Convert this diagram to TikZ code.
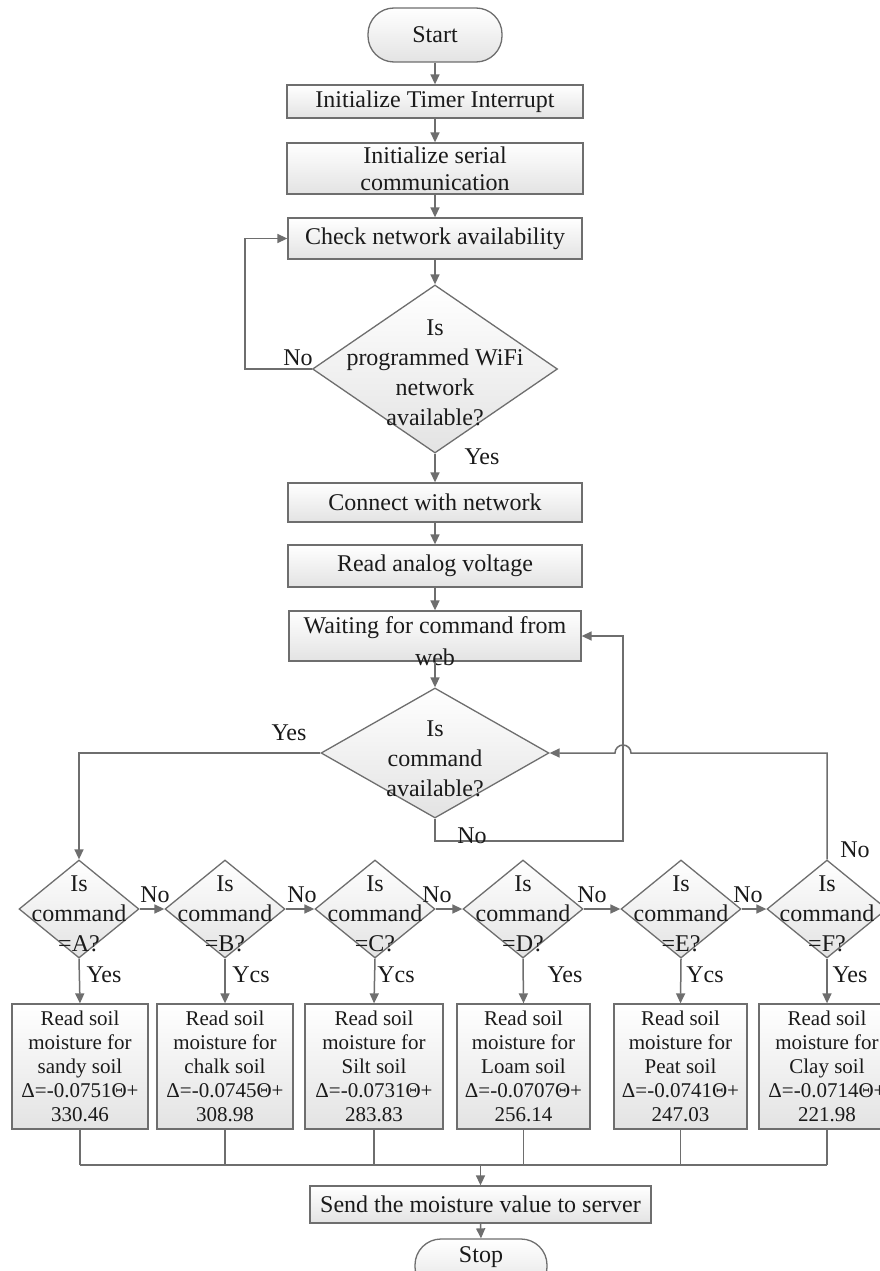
\documentclass[tikz,border=0pt]{standalone}
\usepackage{fontspec}
\setmainfont{Liberation Serif}
\usetikzlibrary{arrows.meta,shapes.geometric}
\definecolor{lc}{HTML}{6E6E6E}
\definecolor{tc}{HTML}{1A1A1A}
\begin{document}
\begin{tikzpicture}[x=1pt,y=-1pt,
  ln/.style={draw=lc,line width=1.5pt},
  arr/.style={ln,-{Triangle[length=10pt,width=9pt]}},
  procbox/.style={draw=lc,line width=1.3pt,top color=white,bottom color=black!11,inner sep=0pt,align=center,text=tc,font=\fontsize{24}{27}\selectfont},
  soilbox/.style={procbox,minimum width=136pt,minimum height=125pt,font=\fontsize{21}{24}\selectfont},
  termbox/.style={procbox,rounded corners=26pt},
  dia/.style={diamond,draw=lc,line width=1.3pt,top color=white,bottom color=black!11,inner sep=0pt},
  bigdia/.style={dia,minimum width=245pt,minimum height=168pt},
  middia/.style={dia,minimum width=228pt,minimum height=130pt},
  smalldia/.style={dia,minimum width=120pt,minimum height=98pt},
  dtext/.style={inner sep=0pt,align=center,text=tc,font=\fontsize{24}{30}\selectfont},
  lbl/.style={inner sep=0pt,text=tc,font=\fontsize{24}{24}\selectfont}
]
\fill[white] (0,0) rectangle (880,1271);
\useasboundingbox (0,0) rectangle (880,1271);

% top column
\node[termbox,minimum width=134pt,minimum height=54pt] (start) at (435,35) {Start};
\node[procbox,minimum width=296pt,minimum height=33pt] (timer) at (435,101.5) {Initialize Timer Interrupt};
\node[procbox,minimum width=296pt,minimum height=51pt] (serial) at (435,168.5) {Initialize serial\\communication};
\node[procbox,minimum width=294pt,minimum height=41pt] (check) at (435,238.5) {Check network availability};
\node[bigdia] (d1) at (435,369) {};
\node[dtext] (d1t) at (435,373) {Is\\programmed WiFi\\network\\available?};
\node[procbox,minimum width=294pt,minimum height=39pt] (connect) at (435,502.5) {Connect with network};
\node[procbox,minimum width=294pt,minimum height=42pt] (analog) at (435,566) {Read analog voltage};
\node[procbox,minimum width=292pt,minimum height=50pt] (wait) at (435,636) {};
\node[dtext,font=\fontsize{24}{32}\selectfont] (waitt) at (435,641) {Waiting for command from\\web};
\node[middia] (d2) at (435,753) {};
\node[dtext] (d2t) at (435,759) {Is\\command\\available?};

% small decisions
\foreach \n/\x/\c in {A/79/A,B/225/B,C/375/C,D/523/D,E/681/E,F/827/F}{
  \node[smalldia] (d\n) at (\x,909) {};
  \node[dtext] (d\n t) at (\x,914) {Is\\command\\=\c?};
}

% soil boxes
\node[soilbox] (sA) at (80,1066.5) {Read soil\\moisture for\\sandy soil\\Δ=-0.0751Θ+\\330.46};
\node[soilbox] (sB) at (225,1066.5) {Read soil\\moisture for\\chalk soil\\Δ=-0.0745Θ+\\308.98};
\node[soilbox,minimum width=138pt] (sC) at (374,1066.5) {Read soil\\moisture for\\Silt soil\\Δ=-0.0731Θ+\\283.83};
\node[soilbox,minimum width=133pt] (sD) at (523.5,1066.5) {Read soil\\moisture for\\Loam soil\\Δ=-0.0707Θ+\\256.14};
\node[soilbox,minimum width=133pt] (sE) at (680.5,1066.5) {Read soil\\moisture for\\Peat soil\\Δ=-0.0741Θ+\\247.03};
\node[soilbox] (sF) at (827,1066.5) {Read soil\\moisture for\\Clay soil\\Δ=-0.0714Θ+\\221.98};

\node[procbox,minimum width=341pt,minimum height=37pt] (send) at (480.5,1204.5) {Send the moisture value to server};
\node[termbox,minimum width=132pt,minimum height=54pt] (stop) at (481,1266) {};
\node[lbl] (stopt) at (481,1257) {Stop};

% coordinates for bends
\coordinate (l1) at (245,369);
\coordinate (lp) at (623,841);
\coordinate (lq) at (623,636);
\coordinate (hopR) at (631,753);
\coordinate (bus) at (0,1165);

% main connectors
\draw[arr] (start.south) -- (timer.north);
\draw[arr] (timer.south) -- (serial.north);
\draw[arr] (serial.south) -- (check.north);
\draw[arr] (check.south) -- (d1.north);
\draw[arr] (d1.west) -- (l1) |- (check.west);
\draw[arr] (d1.south) -- (connect.north);
\draw[arr] (connect.south) -- (analog.north);
\draw[arr] (analog.south) -- (wait.north);
\draw[arr] (wait.south) -- (d2.north);
\draw[arr] (d2.south) |- (lp) -- (lq) -- (wait.east);
\draw[arr] (d2.west) -| (dA.north);
\draw[arr] (dF.north) |- (hopR) arc (0:-180:8) -- (d2.east);

\draw[arr] (dA.east) -- (dB.west);
\draw[arr] (dB.east) -- (dC.west);
\draw[arr] (dC.east) -- (dD.west);
\draw[arr] (dD.east) -- (dE.west);
\draw[arr] (dE.east) -- (dF.west);

\foreach \n in {A,B,C,D,E,F}{
  \draw[arr] (d\n.south) -- (s\n.north);
  \draw[ln] (s\n.south) -- (s\n.south |- bus);
}
\draw[ln] (sA.south |- bus) -- (sF.south |- bus);
\draw[arr] (send.north |- bus) -- (send.north);
\draw[arr] (send.south) -- (stop.north);

% labels
\node[lbl] (n1) at (298,358) {No};
\node[lbl] (y1) at (482,457) {Yes};
\node[lbl] (y2) at (289,733) {Yes};
\node[lbl] (n2) at (472,836) {No};
\node[lbl] (n3) at (855,850) {No};
\node[lbl] (nA) at (155,895) {No};
\node[lbl] (nB) at (302,895) {No};
\node[lbl] (nC) at (437,895) {No};
\node[lbl] (nD) at (592,895) {No};
\node[lbl] (nE) at (748,895) {No};
\node[lbl] (yA) at (104,975) {Yes};
\node[lbl] (yB) at (251,975) {Ycs};
\node[lbl] (yC) at (396,975) {Ycs};
\node[lbl] (yD) at (565,975) {Yes};
\node[lbl] (yE) at (705,975) {Ycs};
\node[lbl] (yF) at (850,975) {Yes};
\end{tikzpicture}
\end{document}
